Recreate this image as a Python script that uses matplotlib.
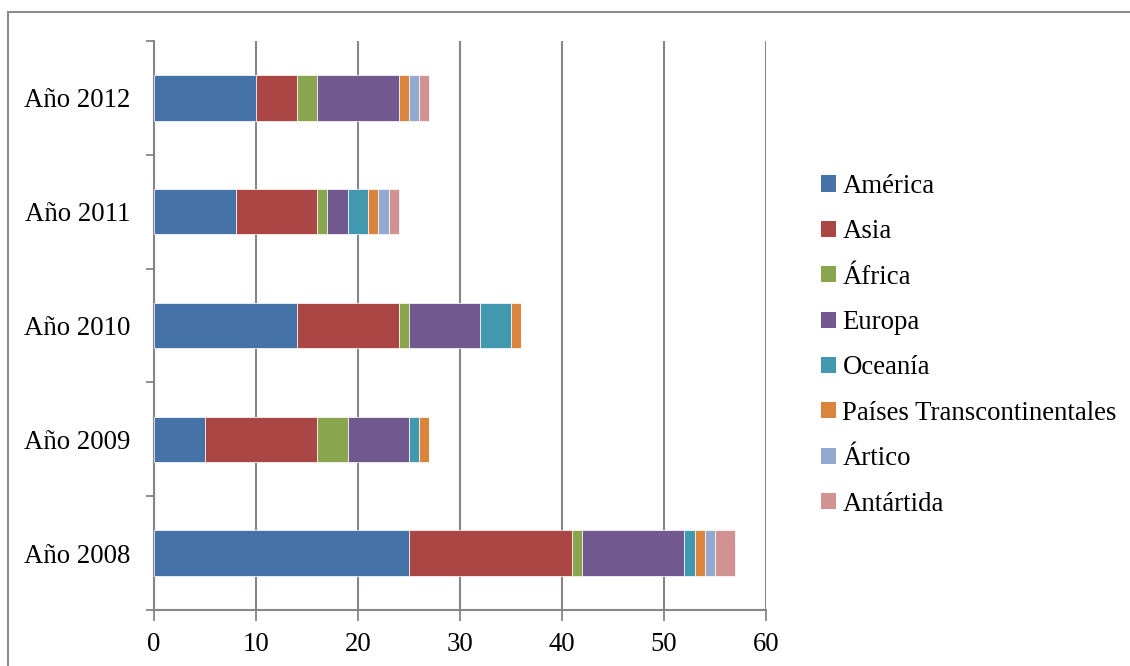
import matplotlib
matplotlib.use("Agg")
import matplotlib.pyplot as plt
from matplotlib.patches import Rectangle, Patch
import numpy as np

categories = ["Año 2008", "Año 2009", "Año 2010", "Año 2011", "Año 2012"]
series_names = ["América", "Asia", "África", "Europa", "Oceanía",
                "Países Transcontinentales", "Ártico", "Antártida"]
america = [25, 5, 14, 8, 10]
asia = [16, 11, 10, 8, 4]
africa = [1, 3, 1, 1, 2]
europa = [10, 6, 7, 2, 8]
oceania = [1, 1, 3, 2, 0]
transcontinentales = [1, 1, 1, 1, 1]
artico = [1, 0, 0, 1, 1]
antartida = [2, 0, 0, 1, 1]
x_ticks = [0, 10, 20, 30, 40, 50, 60]

series = [america, asia, africa, europa, oceania, transcontinentales, artico, antartida]
colors = ["#4572A7", "#AA4643", "#89A54E", "#71588F", "#4198AF",
          "#DB843D", "#93A9CF", "#D19392"]

plt.rcParams['font.family'] = ['Liberation Serif', 'DejaVu Serif']

fig = plt.figure(figsize=(11.3, 6.66), dpi=100)
fig.patches.append(Rectangle((8 / 1130, -0.1), 1.5, 1 - 12 / 666 + 0.1,
                             transform=fig.transFigure, fill=False,
                             edgecolor="#8c8c8c", linewidth=1.5, zorder=0))

ax = fig.add_axes([154 / 1130, 1 - 610 / 666, (766 - 154) / 1130, (610 - 41) / 666])
y = np.arange(len(categories))
left = np.zeros(len(categories))
for name, vals, c in zip(series_names, series, colors):
    vals = np.array(vals, dtype=float)
    ax.barh(y, vals, left=left, height=0.4, color=c, edgecolor="white",
            linewidth=0.5, label=name, zorder=3)
    left += vals

ax.set_xlim(0, 60)
ax.set_ylim(-0.5, len(categories) - 0.5)
ax.set_xticks(x_ticks)
ax.set_xticklabels([str(t) for t in x_ticks], fontsize=19.3)
ax.set_yticks(y)
ax.set_yticklabels(categories, fontsize=19.3)
ax.tick_params(axis='y', length=0, pad=17)
ax.set_yticks(np.arange(-0.5, len(categories), 1.0), minor=True)
ax.tick_params(axis='y', which='minor', length=6, width=1.3, color="#868686", direction='out')
ax.tick_params(axis='x', length=8, width=1.3, color="#868686", direction='out', pad=8)
ax.grid(axis='x', color="#868686", linewidth=1.5, zorder=0)
for s in ["top", "right"]:
    ax.spines[s].set_visible(False)
for s in ["left", "bottom"]:
    ax.spines[s].set_color("#868686")
    ax.spines[s].set_linewidth(1.5)

handles = [Patch(facecolor=c, edgecolor="none") for c in colors]
fig.legend(handles, series_names, loc="upper left",
           bbox_to_anchor=(821 / 1130, 1 - 174 / 666), frameon=False,
           fontsize=19.3, handlelength=0.55, handleheight=0.55, handletextpad=0.25,
           labelspacing=0.76, borderpad=0, borderaxespad=0)

fig.savefig("out.png", dpi=100)
